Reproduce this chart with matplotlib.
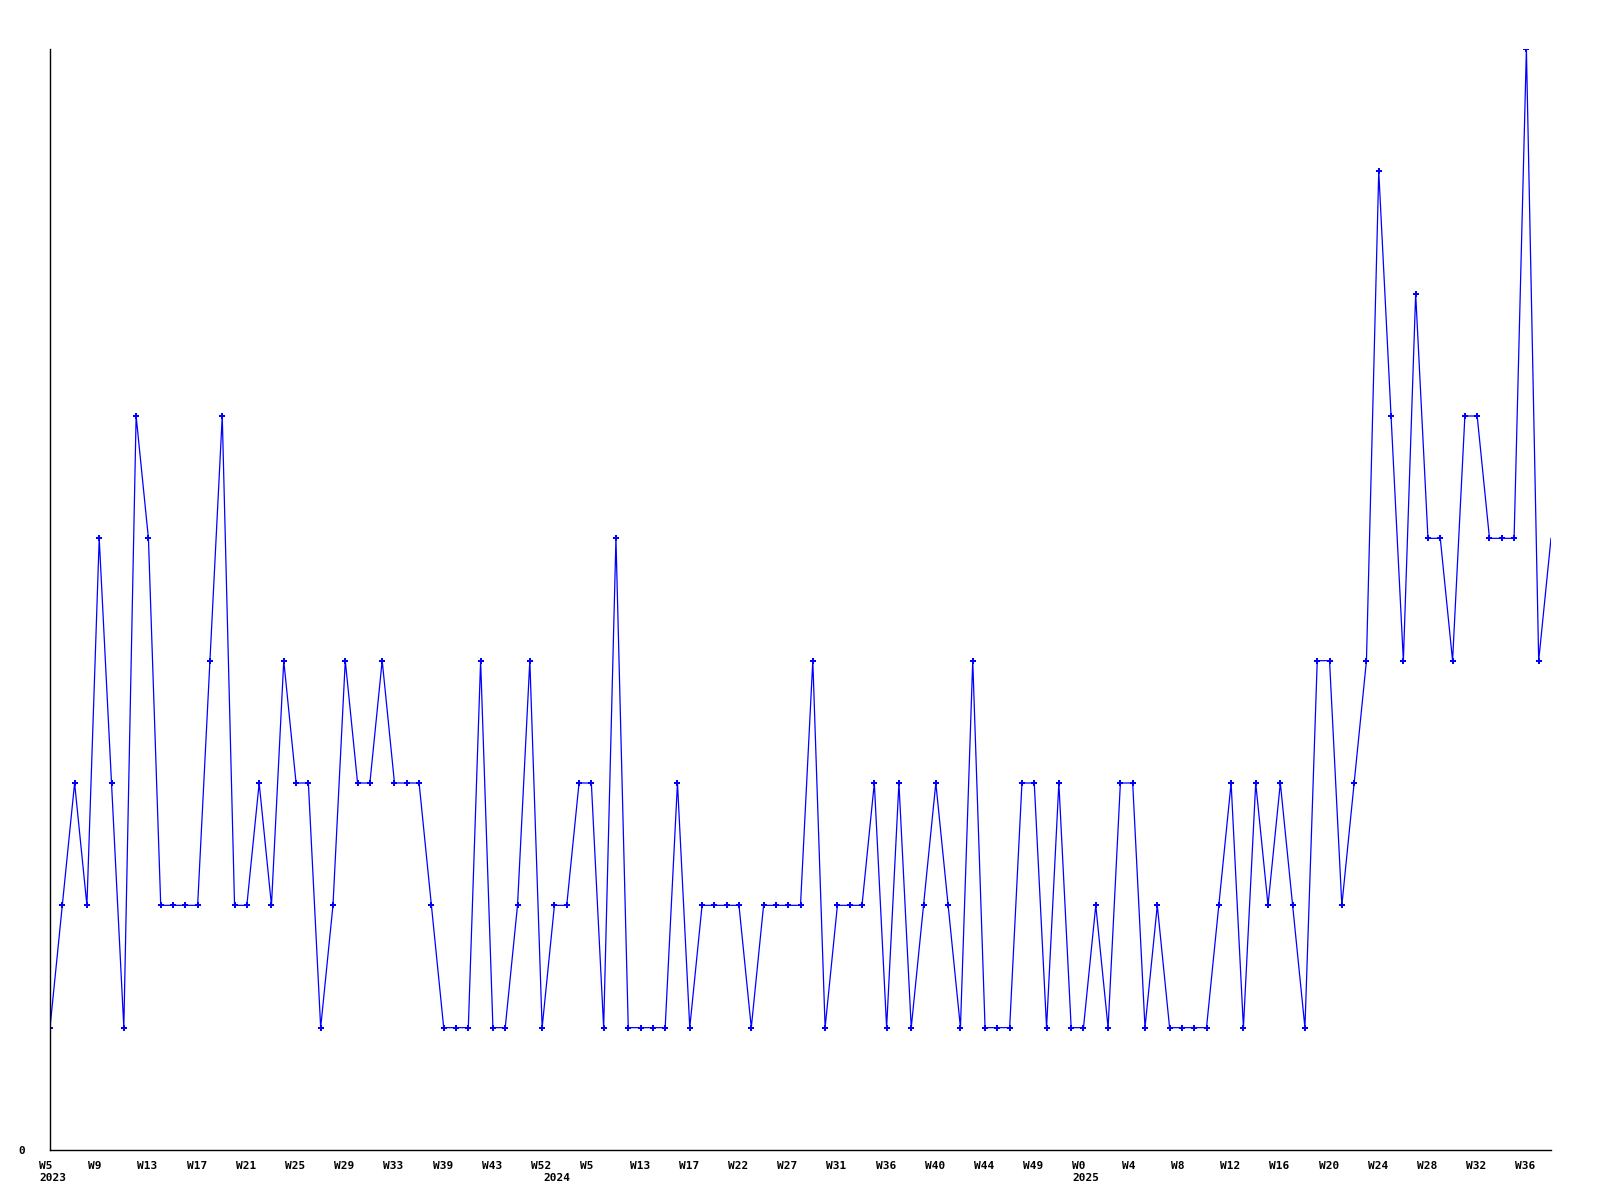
import numpy as np
import matplotlib
matplotlib.use('Agg')
import matplotlib.pyplot as plt
from matplotlib.transforms import ScaledTranslation

# weekly counts, one point per week with data
values = [1, 2, 3, 2, 5, 3, 1, 6, 5, 2,
          2, 2, 2, 4, 6, 2, 2, 3, 2, 4,
          3, 3, 1, 2, 4, 3, 3, 4, 3, 3,
          3, 2, 1, 1, 1, 4, 1, 1, 2, 4,
          1, 2, 2, 3, 3, 1, 5, 1, 1, 1,
          1, 3, 1, 2, 2, 2, 2, 1, 2, 2,
          2, 2, 4, 1, 2, 2, 2, 3, 1, 3,
          1, 2, 3, 2, 1, 4, 1, 1, 1, 3,
          3, 1, 3, 1, 1, 2, 1, 3, 3, 1,
          2, 1, 1, 1, 1, 2, 3, 1, 3, 2,
          3, 2, 1, 4, 4, 2, 3, 4, 8, 6,
          4, 7, 5, 5, 4, 6, 6, 5, 5, 5,
          9, 4, 5]

week_labels = ['W5', 'W9', 'W13', 'W17', 'W21', 'W25', 'W29', 'W33', 'W39', 'W43', 'W52',
               'W5', 'W13', 'W17', 'W22', 'W27', 'W31', 'W36', 'W40', 'W44', 'W49',
               'W0', 'W4', 'W8', 'W12', 'W16', 'W20', 'W24', 'W28', 'W32', 'W36']
tick_step = 4

years = ['2023', '2024', '2025']
year_start = [0, 41, 84]

x = np.arange(len(values))

fig = plt.figure(figsize=(16, 12), dpi=100)
ax = fig.add_axes([50/1600, 50/1200, 1501/1600, 1101/1200])

# last point sits on the right edge, its marker is not drawn in the original
ax.plot(x, values, color='#0000ff', linewidth=0.9, marker='P',
        markersize=4, markeredgewidth=0, markevery=slice(0, len(values) - 1))

ax.set_xlim(0, len(values) - 1)
ax.set_ylim(0, max(values))

for s in ['top', 'right']:
    ax.spines[s].set_visible(False)
for s in ['left', 'bottom']:
    ax.spines[s].set_color('black')
    ax.spines[s].set_linewidth(1.0)

font = dict(family='DejaVu Sans Mono', weight='bold', size=8)

ax.set_yticks([0])
ax.set_yticklabels(['0'], **font)
ax.tick_params(axis='y', length=0, pad=18)

ax.set_xticks(x[::tick_step])
ax.set_xticklabels(week_labels, ha='left', **font)
ax.tick_params(axis='x', length=0, pad=8)
shift = ScaledTranslation(-11/100, 0, fig.dpi_scale_trans)
for lbl in ax.get_xticklabels():
    lbl.set_transform(lbl.get_transform() + shift)

trans = ax.get_xaxis_transform() + shift
for yr, i in zip(years, year_start):
    ax.text(i, -0.021, yr, transform=trans, ha='left', va='top', **font)

fig.savefig('out.png', dpi=100)
